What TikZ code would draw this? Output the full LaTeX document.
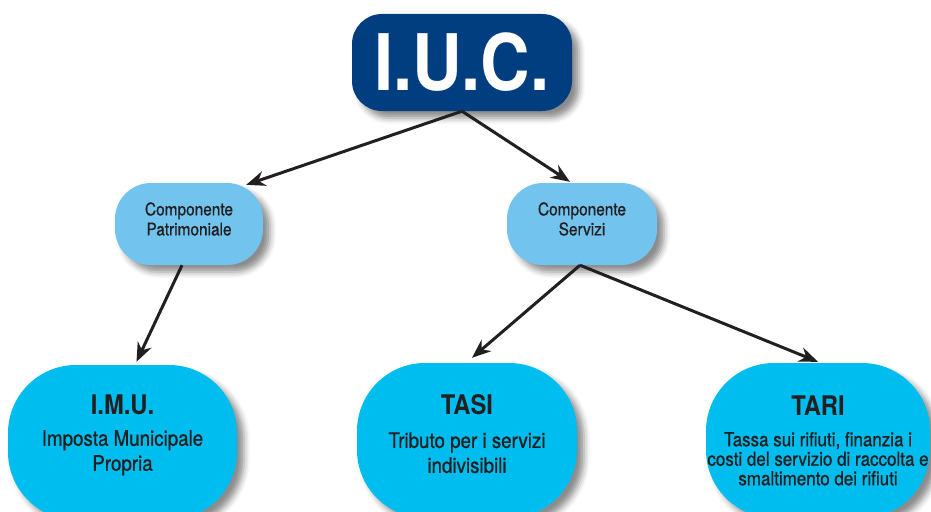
\documentclass[tikz,border=0pt]{standalone}
\usepackage{fontspec}
\setmainfont{TeX Gyre Heros}[FakeStretch=0.88]
\newfontfamily\heavyfont{TeX Gyre Heros}[FakeStretch=0.88, FakeBold=0.8]
\usetikzlibrary{arrows.meta, shadows.blur}

\definecolor{iucblue}{RGB}{0,62,128}
\definecolor{compblue}{RGB}{114,196,238}
\definecolor{taxcyan}{RGB}{0,189,240}
\definecolor{inkdark}{RGB}{35,31,32}

\begin{document}
\begin{tikzpicture}[
        x=1pt, y=1pt,
        box/.style={
            rounded corners=#1,
            inner sep=0pt,
            blur shadow={shadow xshift=7pt, shadow yshift=-7pt,
                shadow blur radius=6pt, shadow opacity=45},
        },
        titletext/.style={text=inkdark, font=\fontsize{27}{30}\selectfont\bfseries},
        bodytext/.style={text=inkdark, align=center, font=\heavyfont\fontsize{21.3}{25}\selectfont},
        comptext/.style={text=inkdark, align=center, font=\heavyfont\fontsize{17.5}{20}\selectfont},
        link/.style={line width=3pt, draw=inkdark,
            -{Stealth[length=19pt, width=15pt]}},
    ]

    \def\wtax{224}
    \def\htax{155}
    \def\rtax{68}

    \useasboundingbox (0,0) rectangle (931,-511);

    % top
    \node[box=30, fill=iucblue, text=white, minimum width=220, minimum height=97,
        font=\fontsize{78}{78}\selectfont\bfseries] (iuc) at (462,-62.5) {I.U.C.};

    % the two components
    \node[box=36, fill=compblue, minimum width=148, minimum height=82] (patr) at (189,-224) {};
    \node[box=36, fill=compblue, minimum width=150, minimum height=82] (serv) at (582,-224) {};
    \node[comptext] (patrtext) at ([yshift=5pt]patr.center) {Componente\\Patrimoniale};
    \node[comptext] (servtext) at ([yshift=5pt]serv.center) {Componente\\Servizi};

    % the three taxes
    \node[box=\rtax, fill=taxcyan, minimum width=229, minimum height=\htax] (imu) at (122.5,-442.5) {};
    \node[box=\rtax, fill=taxcyan, minimum width=220, minimum height=\htax] (tasi) at (467,-440.5) {};
    \node[box=\rtax, fill=taxcyan, minimum width=\wtax, minimum height=\htax] (tari) at (818,-440.5) {};

    \node[titletext] (imutitle) at ([yshift=-40pt]imu.north) {I.M.U.};
    \node[bodytext] (imubody) at ([yshift=-88pt]imu.north) {Imposta Municipale\\Propria};

    \node[titletext] (tasititle) at ([yshift=-42pt]tasi.north) {TASI};
    \node[bodytext] (tasibody) at ([yshift=-90pt]tasi.north) {Tributo per i servizi\\indivisibili};

    \node[titletext] (tarititle) at ([yshift=-43pt]tari.north) {TARI};
    \node[bodytext, font=\heavyfont\fontsize{19.3}{19.5}\selectfont] (taribody) at ([yshift=-96pt]tari.north)
        {Tassa sui rifiuti, finanzia i\\costi del servizio di raccolta e\\smaltimento dei rifiuti};

    % arrows
    \draw[link] (iuc.south) -- ([xshift=-17pt,yshift=-2pt]patr.north east);
    \draw[link] (iuc.south) -- ([xshift=-12pt,yshift=1pt]serv.north);
    \draw[link] ([xshift=-7pt]patr.south) -- ([xshift=14pt,yshift=3pt]imu.north);
    \draw[link] ([xshift=-2pt]serv.south) -- ([xshift=5pt,yshift=5pt]tasi.north);
    \draw[link] ([xshift=-2pt]serv.south) -- ([yshift=1pt]tari.north);

\end{tikzpicture}
\end{document}
